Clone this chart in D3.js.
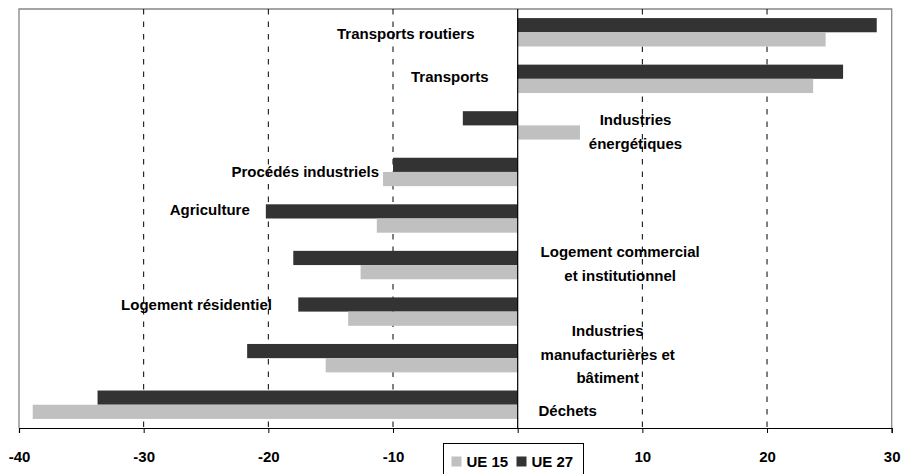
<!DOCTYPE html>
<html>
<head>
<meta charset="utf-8">
<script src="https://cdn.jsdelivr.net/npm/d3@7"></script>
<style>
  body { margin: 0; background: #fff; }
  svg { display: block; }
</style>
</head>
<body>
<div id="chart"></div>
<script>
// ############## DATA ##############
var categories = [
  'Transports routiers',
  'Transports',
  'Industries énergétiques',
  'Procédés industriels',
  'Agriculture',
  'Logement commercial et institutionnel',
  'Logement résidentiel',
  'Industries manufacturières et bâtiment',
  'Déchets'
];
var ue27 = [28.8, 26.1, -4.4, -10.0, -20.2, -18.0, -17.6, -21.7, -33.7];
var ue15 = [24.7, 23.7, 5.0, -10.8, -11.3, -12.6, -13.6, -15.4, -38.9];
var seriesNames = ['UE 15', 'UE 27'];
var xTicks = [-40, -30, -20, -10, 0, 10, 20, 30];

// label text lines + where they sit (x in data units, dy px from band centre)
var labelLines = [
  ['Transports routiers'],
  ['Transports'],
  ['Industries', 'énergétiques'],
  ['Procédés industriels'],
  ['Agriculture'],
  ['Logement commercial', 'et institutionnel'],
  ['Logement résidentiel'],
  ['Industries', 'manufacturières et', 'bâtiment'],
  ['Déchets']
];
var labelAt = [-8.98, -5.45, 9.45, -17.04, -24.7, 8.22, -25.76, 7.22, 4.01];
var labelDy = [7.0, 3.0, -0.25, 5.5, -3.5, -8.0, -2.0, -21.75, 11.45];

// ############## ATTRS ##############
var attrs = {
  width: 902,
  height: 474,
  left: 19,
  right: 891.7,
  top: 9,
  bottom: 428,
  dark: '#333333',
  light: '#c0c0c0',
  frame: '#868686',
  font: '"Liberation Sans", Arial, sans-serif',
  fontSize: 15,
  lineGap: 23.5
};

var svg = d3.select('#chart').append('svg')
  .attr('width', attrs.width)
  .attr('height', attrs.height);

var x = d3.scaleLinear().domain([-40, 30]).range([attrs.left, attrs.right]);
var y = d3.scaleBand().domain(categories)
  .range([attrs.top, attrs.bottom])
  .paddingInner(0.39).paddingOuter(0.195);
var ySub = d3.scaleBand().domain(['UE 27', 'UE 15']).range([0, y.bandwidth()]);

// frame (top, left, right)
svg.append('path')
  .attr('d', 'M' + attrs.left + ',' + attrs.bottom + 'V' + attrs.top + 'H' + attrs.right + 'V' + attrs.bottom)
  .attr('fill', 'none')
  .attr('stroke', attrs.frame)
  .attr('stroke-width', 1.3);

// dashed grid
svg.append('g').selectAll('line')
  .data(xTicks.filter(function(d) { return d !== 0 && d !== -40 && d !== 30; }))
  .enter().append('line')
  .attr('x1', function(d) { return x(d); })
  .attr('x2', function(d) { return x(d); })
  .attr('y1', attrs.top)
  .attr('y2', attrs.bottom)
  .attr('stroke', '#000')
  .attr('stroke-width', 1)
  .attr('stroke-dasharray', '5.5,7');

// ############## BARS ##############
var rows = categories.map(function(c, i) {
  return { cat: c, vals: [{ s: 'UE 27', v: ue27[i] }, { s: 'UE 15', v: ue15[i] }] };
});

var bars = svg.append('g').selectAll('g')
  .data(rows).enter().append('g')
  .attr('transform', function(d) { return 'translate(0,' + y(d.cat) + ')'; });

bars.selectAll('rect')
  .data(function(d) { return d.vals; })
  .enter().append('rect')
  .attr('x', function(d) { return x(Math.min(0, d.v)); })
  .attr('width', function(d) { return Math.abs(x(d.v) - x(0)); })
  .attr('y', function(d) { return ySub(d.s); })
  .attr('height', ySub.bandwidth())
  .attr('fill', function(d) { return d.s === 'UE 27' ? attrs.dark : attrs.light; });

// zero line
svg.append('line')
  .attr('x1', x(0)).attr('x2', x(0))
  .attr('y1', attrs.top).attr('y2', attrs.bottom)
  .attr('stroke', '#000').attr('stroke-width', 1.2);

// ############## AXIS ##############
// plain hyphen for negatives, like the original
var xAxis = d3.axisBottom(x).tickValues(xTicks).tickSize(5).tickPadding(18)
  .tickFormat(function(d) { return String(d); });
var axisG = svg.append('g')
  .attr('transform', 'translate(0,' + attrs.bottom + ')')
  .call(xAxis);
axisG.select('.domain').attr('stroke', '#000').attr('stroke-width', 1.2);
axisG.selectAll('.tick line').attr('stroke', '#000');
axisG.selectAll('.tick text')
  .attr('font-family', attrs.font)
  .attr('font-size', attrs.fontSize)
  .attr('font-weight', 'bold')
  .attr('fill', '#000');

// ############## CATEGORY LABELS ##############
var labels = svg.append('g').selectAll('text')
  .data(categories).enter().append('text')
  .attr('text-anchor', 'middle')
  .attr('font-family', attrs.font)
  .attr('font-size', attrs.fontSize)
  .attr('font-weight', 'bold')
  .attr('fill', '#000')
  .attr('transform', function(d, i) {
    return 'translate(' + x(labelAt[i]) + ',' + (y(d) + y.bandwidth() / 2 + labelDy[i]) + ')';
  });

labels.selectAll('tspan')
  .data(function(d, i) { return labelLines[i]; })
  .enter().append('tspan')
  .attr('x', 0)
  .attr('y', function(d, j) { return j * attrs.lineGap; })
  .text(function(d) { return d; });

// ############## LEGEND ##############
var legend = svg.append('g').attr('transform', 'translate(443.5,443.5)');
legend.append('rect')
  .attr('width', 140).attr('height', 40)
  .attr('fill', '#fff')
  .attr('stroke', '#000').attr('stroke-width', 1);

var legItems = legend.selectAll('.leg')
  .data(seriesNames).enter().append('g')
  .attr('class', 'leg')
  .attr('transform', function(d, i) { return 'translate(' + (8 + i * 65) + ',13)'; });
legItems.append('rect')
  .attr('width', 10).attr('height', 10)
  .attr('fill', function(d) { return d === 'UE 27' ? attrs.dark : attrs.light; });
legItems.append('text')
  .attr('x', 15).attr('y', 10.5)
  .attr('font-family', attrs.font)
  .attr('font-size', attrs.fontSize)
  .attr('font-weight', 'bold')
  .text(function(d) { return d; });
</script>
</body>
</html>
